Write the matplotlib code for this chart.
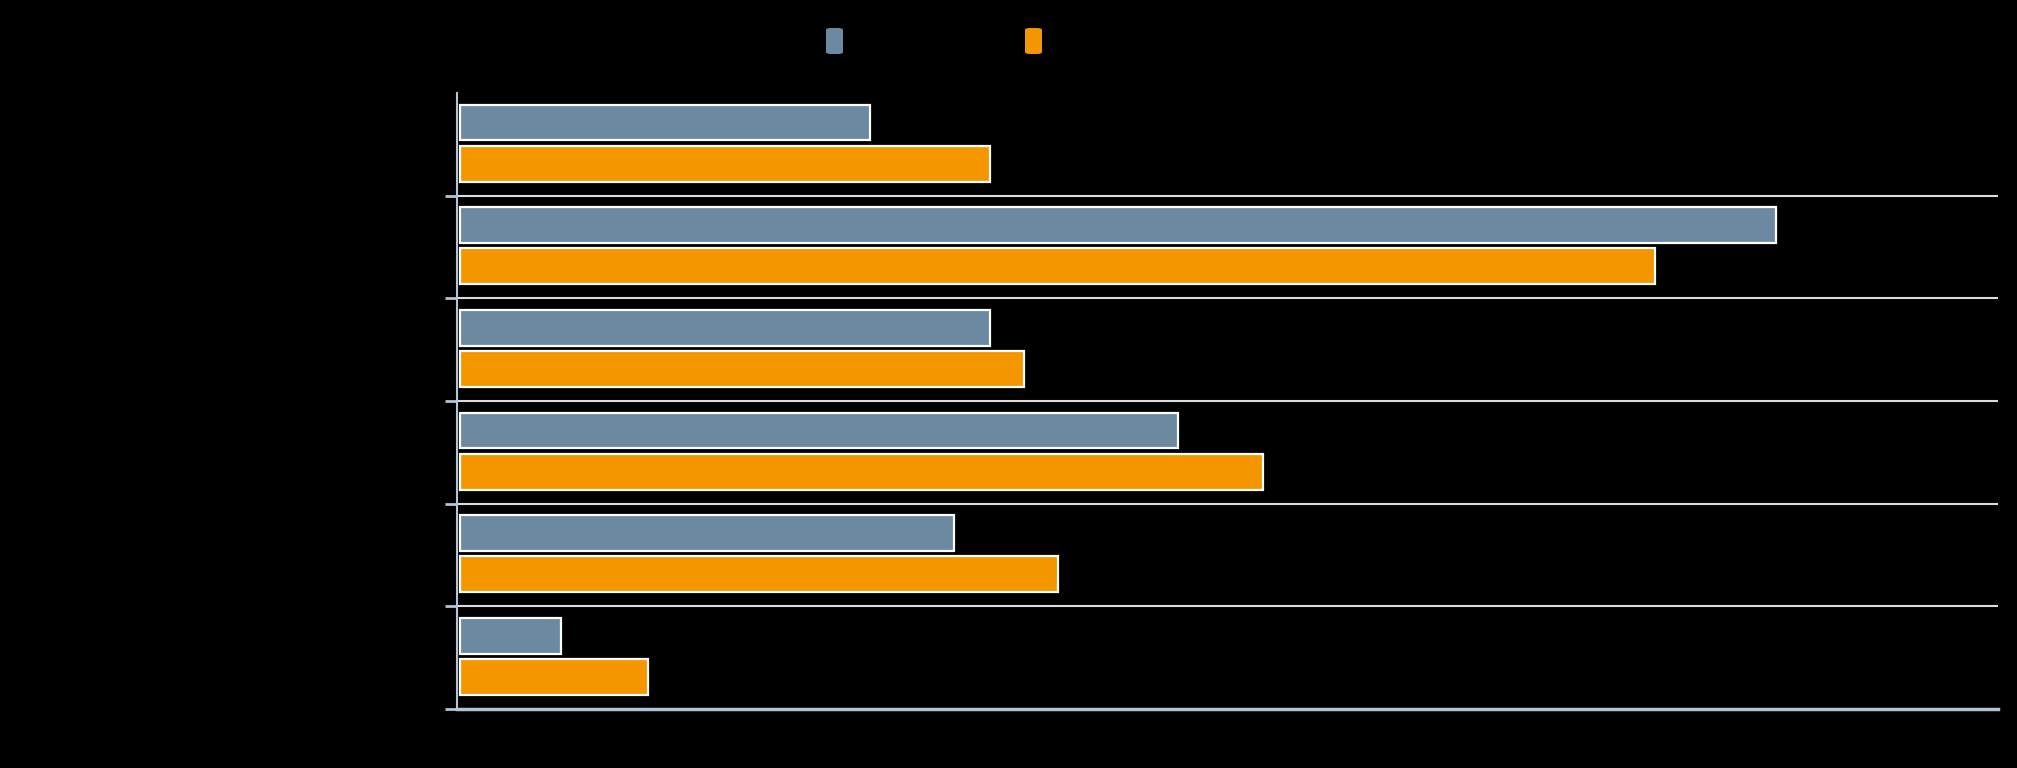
import numpy as np
import matplotlib
matplotlib.use('Agg')
import matplotlib.pyplot as plt
from matplotlib.patches import FancyBboxPatch

# labels are drawn in black on black in the reference, so they cannot be read
categories = ['Category 1', 'Category 2', 'Category 3', 'Category 4', 'Category 5', 'Category 6']
series_names = ['Series A', 'Series B']
series_a = [26.6, 85.4, 34.4, 46.6, 32.1, 6.6]
series_b = [34.4, 77.6, 36.6, 52.1, 38.8, 12.2]

BLUE = '#6b89a0'
ORANGE = '#f39600'
AXIS = '#b4c4d4'
GRID = '#dcdcdc'

fig = plt.figure(figsize=(20.17, 7.68), dpi=100, facecolor='black')
ax = fig.add_axes([0.2266, 0.0768, 0.9906 - 0.2266, 0.8789 - 0.0768])
ax.set_facecolor('black')

idx = np.arange(len(categories))
h = 0.35
ax.barh(idx + 0.2875, series_a, height=h, color=BLUE, edgecolor='white', linewidth=1.6, zorder=3)
ax.barh(idx + 0.6875, series_b, height=h, color=ORANGE, edgecolor='white', linewidth=1.6, zorder=3)

# bars sit a couple of pixels right of the axis line
ax.set_xlim(-0.17, 99.83)
ax.set_ylim(len(categories), 0)

# grid lines between bands
for y in range(1, len(categories)):
    ax.axhline(y, color=GRID, linewidth=1.5, zorder=1)

for s in ['top', 'right']:
    ax.spines[s].set_visible(False)
ax.spines['left'].set_color(AXIS)
ax.spines['left'].set_linewidth(1.5)
ax.spines['bottom'].set_color(AXIS)
ax.spines['bottom'].set_linewidth(2.5)

ax.set_yticks(idx + 0.5)
ax.set_yticklabels(categories, color='black', fontsize=13)
ax.tick_params(axis='y', which='major', length=0, pad=12)
ax.set_yticks(np.arange(1, len(categories) + 1), minor=True)
ax.tick_params(axis='y', which='minor', length=9, width=2, color=AXIS)
ax.set_xticks([])

# legend swatches
for x0, col, name in [(826, BLUE, series_names[0]), (1025, ORANGE, series_names[1])]:
    p = FancyBboxPatch((x0 / 2017, 1 - 54 / 768), 17 / 2017, 26 / 768,
                       boxstyle='round,pad=0,rounding_size=0.0025',
                       transform=fig.transFigure, facecolor=col, edgecolor='none')
    fig.patches.append(p)
    fig.text((x0 + 26) / 2017, 1 - 41 / 768, name, color='black', fontsize=13, va='center')

fig.savefig('out.png', dpi=100, facecolor='black')
